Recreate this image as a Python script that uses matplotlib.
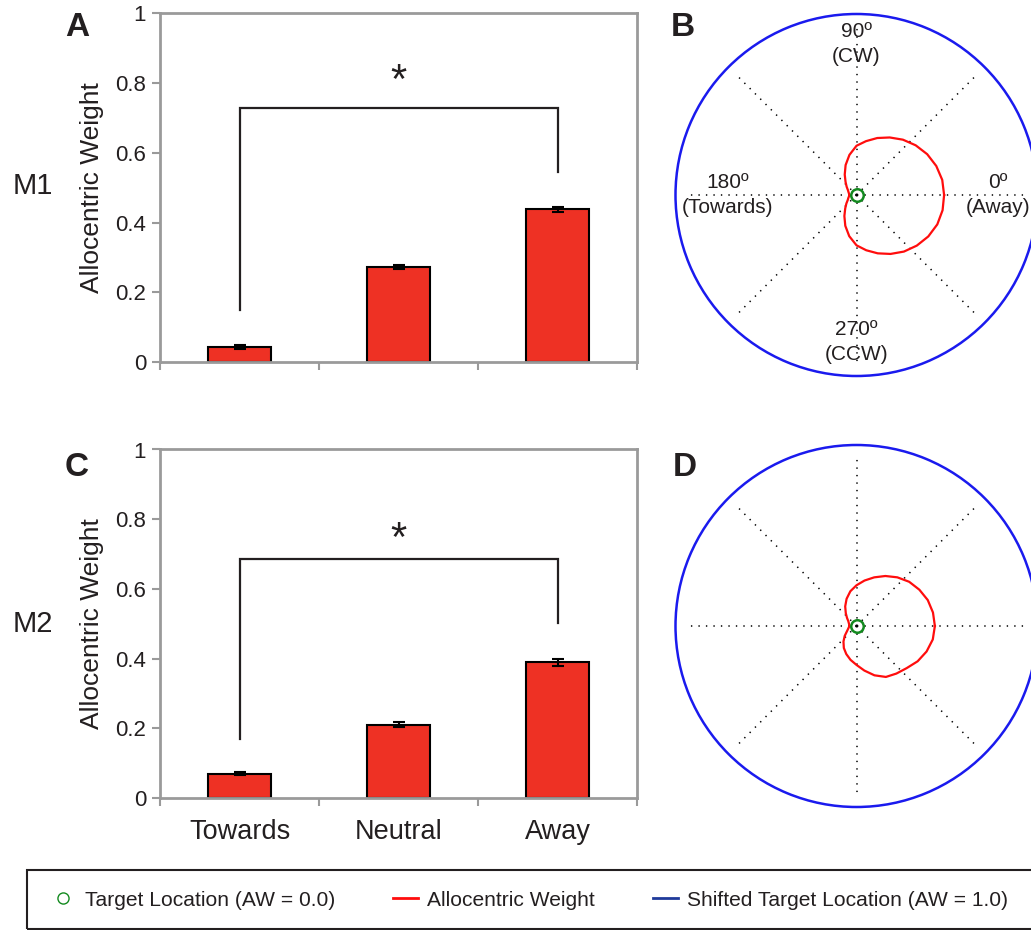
import numpy as np
import matplotlib
matplotlib.use('Agg')
import matplotlib.pyplot as plt
from matplotlib.lines import Line2D
from matplotlib.patches import Rectangle

plt.rcParams['font.family'] = ['Liberation Sans', 'DejaVu Sans']

# ---- data ----
categories = ['Towards', 'Neutral', 'Away']
m1_aw = [0.043, 0.273, 0.438]
m1_err = [0.006, 0.005, 0.007]
m2_aw = [0.070, 0.210, 0.389]
m2_err = [0.004, 0.007, 0.009]
y_ticks = [0, 0.2, 0.4, 0.6, 0.8, 1]

# significance bracket: top, left leg end, right leg end, star height
m1_sig = [0.729, 0.148, 0.545, 0.832]
m2_sig = [0.687, 0.170, 0.502, 0.771]

# allocentric weight by movement direction (deg), polar panels
angles_deg = list(range(0, 360, 10))
m1_polar = [0.484, 0.481, 0.469, 0.451, 0.427, 0.399, 0.367, 0.335, 0.302,
            0.272, 0.225, 0.176, 0.130, 0.094, 0.071, 0.055, 0.047, 0.042,
            0.040, 0.042, 0.048, 0.056, 0.073, 0.097, 0.134, 0.181, 0.231,
            0.278, 0.310, 0.343, 0.376, 0.408, 0.435, 0.458, 0.475, 0.483]
m2_polar = [0.433, 0.429, 0.419, 0.401, 0.380, 0.351, 0.319, 0.286, 0.255,
            0.225, 0.195, 0.160, 0.125, 0.092, 0.068, 0.052, 0.045, 0.041,
            0.040, 0.043, 0.050, 0.062, 0.085, 0.112, 0.140, 0.165, 0.190,
            0.215, 0.250, 0.290, 0.325, 0.343, 0.362, 0.390, 0.412, 0.428]
target_aw = 0.0
shifted_aw = 1.0
spoke_deg = [0, 45, 90, 135, 180, 225, 270, 315]
dir_labels = ['0º\n(Away)', '90º\n(CW)', '180º\n(Towards)', '270º\n(CCW)']
dir_label_deg = [0, 90, 180, 270]
dir_label_r = [0.78, 0.835, 0.71, 0.81]

RED = '#ee3124'
TXT = '#231f20'
GRAY = '#9a9a9a'
GREEN = '#138a1f'
BLUE = '#1a1aee'
STAR_FS = 30


def bar_panel(ax, vals, errs, sig, show_labels):
    x = np.arange(len(categories))
    ax.bar(x, vals, width=0.4, color=RED, edgecolor='black', linewidth=1.5, zorder=2)
    ax.errorbar(x, vals, yerr=errs, fmt='none', ecolor='black', elinewidth=1.5,
                capsize=4.5, capthick=1.5, zorder=3)
    ax.plot([x[0], x[0], x[-1], x[-1]], [sig[1], sig[0], sig[0], sig[2]],
            color=TXT, lw=1.6, solid_joinstyle='miter')
    # asterisk glyph sits high in its box, shift it down a bit
    ax.annotate('*', (x[1], sig[3]), xytext=(0, -0.25 * STAR_FS),
                textcoords='offset points', ha='center', va='center',
                fontsize=STAR_FS, color=TXT)
    ax.set_xlim(-0.5, 2.5)
    ax.set_ylim(0, 1)
    ax.set_yticks(y_ticks)
    ax.set_yticklabels(['%g' % t for t in y_ticks], fontsize=16, color=TXT)
    ax.set_xticks(np.arange(-0.5, 3, 1.0))
    ax.set_xticklabels([])
    ax.set_xticks(x, minor=True)
    if show_labels:
        ax.set_xticklabels(categories, minor=True, fontsize=19.5, color=TXT)
    ax.tick_params(axis='x', which='minor', length=0, pad=15)
    ax.tick_params(axis='both', which='major', direction='out', length=6,
                   width=1.5, color=GRAY)
    ax.tick_params(axis='y', pad=4)
    for s in ax.spines.values():
        s.set_color(GRAY)
        s.set_linewidth(2)
    ax.set_ylabel('Allocentric Weight', fontsize=19, color=TXT)
    ax.yaxis.set_label_coords(-0.118, 0.5)


def polar_panel(ax, vals, with_labels):
    th = np.deg2rad(angles_deg + angles_deg[:1])
    r = vals + vals[:1]
    for d in spoke_deg:
        ax.plot([np.deg2rad(d)] * 2, [0, 0.95], color='black', lw=1.1,
                ls=(0, (0.9, 4)), zorder=1)
    ax.plot(th, r, color='#ff0d0d', lw=1.6, zorder=3, solid_joinstyle='round')
    ax.plot(0, target_aw, 'o', ms=9, mfc='none', mec=GREEN, mew=1.8, zorder=4)
    if with_labels:
        for lab, d, rr in zip(dir_labels, dir_label_deg, dir_label_r):
            ax.text(np.deg2rad(d), rr, lab, ha='center', va='center',
                    multialignment='center', fontsize=15, color=TXT,
                    linespacing=1.4)
    ax.set_ylim(0, shifted_aw)
    ax.grid(False)
    ax.set_xticks([])
    ax.set_yticks([])
    ax.spines['polar'].set_color(BLUE)
    ax.spines['polar'].set_linewidth(1.8)


fig = plt.figure(figsize=(10.31, 9.30), dpi=100)
W, H = 1031.0, 930.0

axA = fig.add_axes([160 / W, 1 - 362 / H, 477 / W, 348.5 / H])
axC = fig.add_axes([160 / W, 1 - 798 / H, 477 / W, 348.5 / H])
bar_panel(axA, m1_aw, m1_err, m1_sig, False)
bar_panel(axC, m2_aw, m2_err, m2_sig, True)

axB = fig.add_axes([675.5 / W, 1 - 376 / H, 362 / W, 362 / H], projection='polar')
axD = fig.add_axes([675.5 / W, 1 - 807 / H, 362 / W, 362 / H], projection='polar')
polar_panel(axB, m1_polar, True)
polar_panel(axD, m2_polar, False)

# panel letters and monkey names
for lab, (px, py) in zip('ABCD', [(77, 28), (683, 28), (77, 467), (685, 467)]):
    fig.text(px / W, 1 - py / H, lab, fontsize=24, fontweight='bold',
             ha='center', va='center', color=TXT)
fig.text(33 / W, 1 - 186 / H, 'M1', fontsize=21, ha='center', va='center', color=TXT)
fig.text(33 / W, 1 - 624 / H, 'M2', fontsize=21, ha='center', va='center', color=TXT)

# legend box
fig.add_artist(Rectangle((27 / W, 1 - 929 / H), 1030 / W, 59 / H, transform=fig.transFigure,
                         fill=False, ec=TXT, lw=1.5, clip_on=False))
handles = [Line2D([], [], ls='none', marker='o', ms=8, mfc='none', mec=GREEN, mew=1.0),
           Line2D([], [], color='#ff0d0d', lw=2),
           Line2D([], [], color='#1f3a9a', lw=2)]
labels = ['Target Location (AW = 0.0)', 'Allocentric Weight',
          'Shifted Target Location (AW = 1.0)']
leg = fig.legend(handles, labels, loc='center left', bbox_to_anchor=(50 / W, 1 - 900 / H),
                 ncol=3, frameon=False, fontsize=15.1, handlelength=1.2,
                 handletextpad=0.45, columnspacing=2.75, borderaxespad=0, borderpad=0)
for t in leg.get_texts():
    t.set_color(TXT)

fig.savefig('out.png', dpi=100)
